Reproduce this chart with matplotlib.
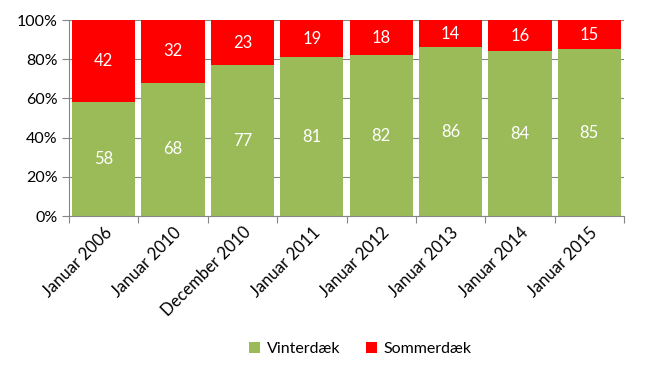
import matplotlib
matplotlib.use("Agg")
import matplotlib.pyplot as plt
import numpy as np

categories = ["Januar 2006", "Januar 2010", "December 2010", "Januar 2011",
              "Januar 2012", "Januar 2013", "Januar 2014", "Januar 2015"]
vinter = [58, 68, 77, 81, 82, 86, 84, 85]
sommer = [42, 32, 23, 19, 18, 14, 16, 15]
yticks = [0, 20, 40, 60, 80, 100]
ytick_labels = ["0%", "20%", "40%", "60%", "80%", "100%"]

plt.rcParams['font.family'] = ['Lato', 'DejaVu Sans']

green = "#9BBB59"
red = "#FF0000"
gray = "#868686"

fig = plt.figure(figsize=(6.45, 3.81), dpi=100)
ax = fig.add_axes([69/645, 1-216/381, (624-69)/645, (216-20)/381])

x = np.arange(len(categories))
b1 = ax.bar(x, vinter, width=0.91, color=green, zorder=2, label="Vinterdæk")
b2 = ax.bar(x, sommer, bottom=vinter, width=0.91, color=red, zorder=2, label="Sommerdæk")

for xi, v, s in zip(x, vinter, sommer):
    ax.text(xi, v/2, str(v), ha="center", va="center", color="white", fontsize=12, zorder=3)
    ax.text(xi, v + s/2, str(s), ha="center", va="center", color="white", fontsize=12, zorder=3)

ax.set_xlim(-0.5, len(categories)-0.5)
ax.set_ylim(0, 100)
ax.set_yticks(yticks)
ax.set_yticklabels(ytick_labels, fontsize=11.5)
ax.yaxis.grid(True, color=gray, linewidth=0.8, zorder=0)
ax.set_axisbelow(True)

ax.set_xticks(np.arange(len(categories)+1) - 0.5, minor=False)
ax.set_xticklabels([])
ax.set_xticks(x, minor=True)
ax.set_xticklabels(categories, minor=True, rotation=45, ha="right",
                   rotation_mode="anchor", fontsize=12)
ax.tick_params(axis="x", which="minor", length=0, pad=6)
ax.tick_params(axis="x", which="major", length=5, color=gray, width=0.8)
ax.tick_params(axis="y", length=5, color=gray, width=0.8, pad=3)

for sp in ["top", "right"]:
    ax.spines[sp].set_visible(False)
for sp in ["left", "bottom"]:
    ax.spines[sp].set_color(gray)
    ax.spines[sp].set_linewidth(0.8)

leg = fig.legend(handles=[b1, b2], loc="center", bbox_to_anchor=(360/645, 1-349/381),
                 ncol=2, frameon=False, fontsize=11.5, handlelength=0.7, handleheight=0.7,
                 handletextpad=0.4, columnspacing=1.6)

fig.savefig("out.png", dpi=100)
